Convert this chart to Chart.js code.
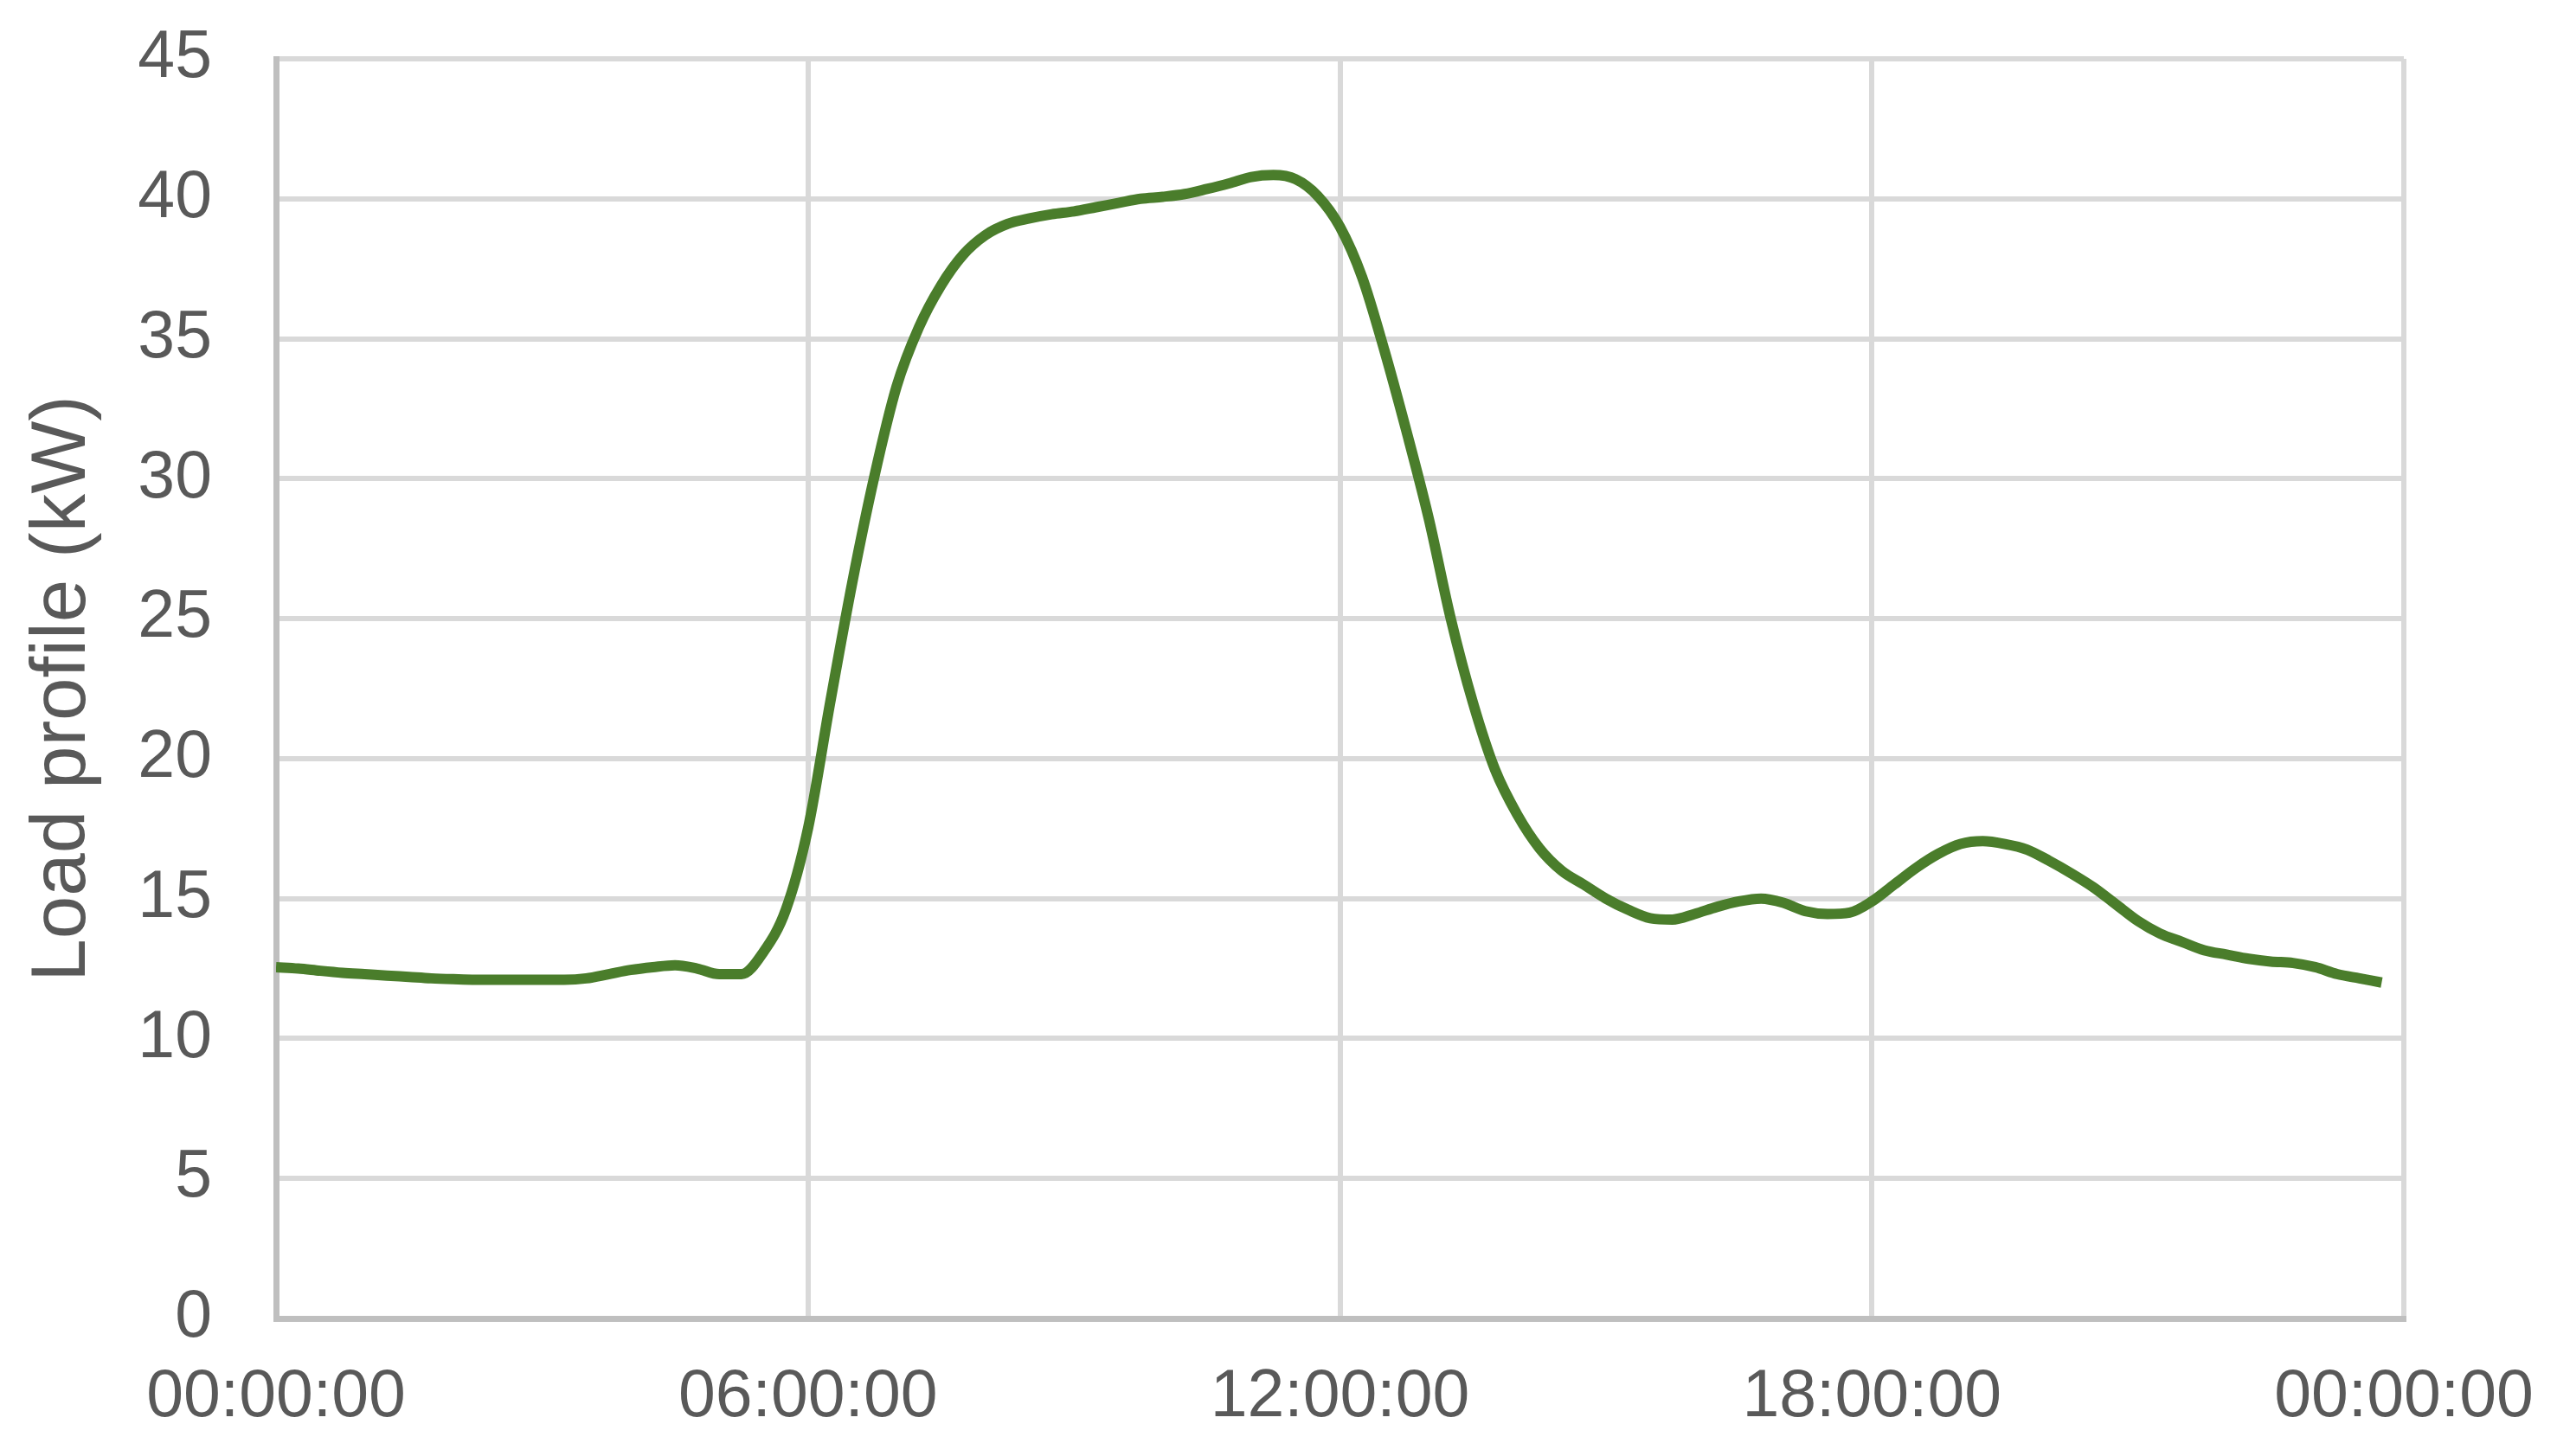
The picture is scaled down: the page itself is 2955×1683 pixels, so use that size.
<!DOCTYPE html>
<html>
<head>
<meta charset="utf-8">
<script src="https://cdn.jsdelivr.net/npm/chart.js@4/dist/chart.umd.min.js"></script>
<style>
  html, body { margin: 0; padding: 0; background: #ffffff; }
  #wrap { width: 2955px; height: 1683px; position: relative; }
</style>
</head>
<body>
<div id="wrap"><canvas id="c"></canvas></div>
<script>
// ---- data ----
const intervalMinutes = 15;            // sampling step of the load profile
const loadKW = [
  12.55, 12.5, 12.42, 12.35, 12.3, 12.25, 12.2, 12.15,      // 00:00 - 01:45
  12.12, 12.1, 12.1, 12.1, 12.1, 12.1, 12.15, 12.3,         // 02:00 - 03:45
  12.45, 12.55, 12.62, 12.5, 12.3, 12.3, 13.1, 14.6,        // 04:00 - 05:45
  17.5, 22.0, 26.3, 30.1, 33.3, 35.4, 36.9, 38.0,           // 06:00 - 07:45
  38.7, 39.1, 39.3, 39.45, 39.55, 39.7, 39.85, 40.0,        // 08:00 - 09:45
  40.07, 40.17, 40.35, 40.55, 40.78, 40.85, 40.7, 40.1,     // 10:00 - 11:45
  39.0, 37.2, 34.6, 31.7, 28.6, 25.0, 22.0, 19.6,           // 12:00 - 13:45
  18.0, 16.8, 16.0, 15.5, 15.0, 14.6, 14.3, 14.25,          // 14:00 - 15:45
  14.45, 14.7, 14.9, 15.0, 14.85, 14.55, 14.45, 14.5,       // 16:00 - 17:45
  14.9, 15.5, 16.1, 16.6, 16.95, 17.05, 16.95, 16.75,       // 18:00 - 19:45
  16.35, 15.9, 15.4, 14.8, 14.2, 13.75, 13.45, 13.15,       // 20:00 - 21:45
  13.0, 12.85, 12.75, 12.7, 12.55, 12.3, 12.15, 12.0        // 22:00 - 23:45
];
const xTickLabels = ["00:00:00", "06:00:00", "12:00:00", "18:00:00", "00:00:00"];
const yAxisTitle = "Load profile (kW)";

// ---- build chart ----
const points = loadKW.map((v, i) => ({ x: i * intervalMinutes / 60, y: v }));
const FONT = "'Liberation Sans', Arial, sans-serif";
const TEXT = "#595959";

new Chart(document.getElementById('c'), {
  type: 'line',
  data: {
    datasets: [{
      data: points,
      borderColor: '#4a7d2b',
      borderWidth: 12,
      pointRadius: 0,
      fill: false,
      cubicInterpolationMode: 'monotone'
    }]
  },
  options: {
    responsive: true,
    maintainAspectRatio: false,
    devicePixelRatio: 1,
    animation: false,
    layout: { padding: { left: 0, right: 177, top: 68, bottom: 0 } },
    plugins: { legend: { display: false }, tooltip: { enabled: false } },
    scales: {
      x: {
        type: 'linear',
        min: 0, max: 24,
        afterFit: s => { s.height = 159; s.paddingLeft = 0; s.paddingRight = 0; },
        ticks: {
          stepSize: 6,
          autoSkip: false,
          maxRotation: 0,
          padding: 46,
          color: TEXT,
          font: { family: FONT, size: 77 },
          callback: (v, i) => xTickLabels[i]
        },
        grid: { color: '#d9d9d9', lineWidth: 6, drawTicks: false },
        border: { display: true, color: '#bfbfbf', width: 7 }
      },
      y: {
        min: 0, max: 45,
        afterFit: s => { s.width = 319; s.paddingTop = 0; s.paddingBottom = 0; },
        ticks: {
          stepSize: 5,
          padding: 74,
          color: TEXT,
          font: { family: FONT, size: 77 }
        },
        grid: { color: '#d9d9d9', lineWidth: 6, drawTicks: false },
        border: { display: true, color: '#bfbfbf', width: 7 },
        title: {
          display: true,
          text: yAxisTitle,
          color: TEXT,
          font: { family: FONT, size: 89 },
          padding: { top: 20, bottom: 0 }
        }
      }
    }
  }
});
</script>
</body>
</html>
